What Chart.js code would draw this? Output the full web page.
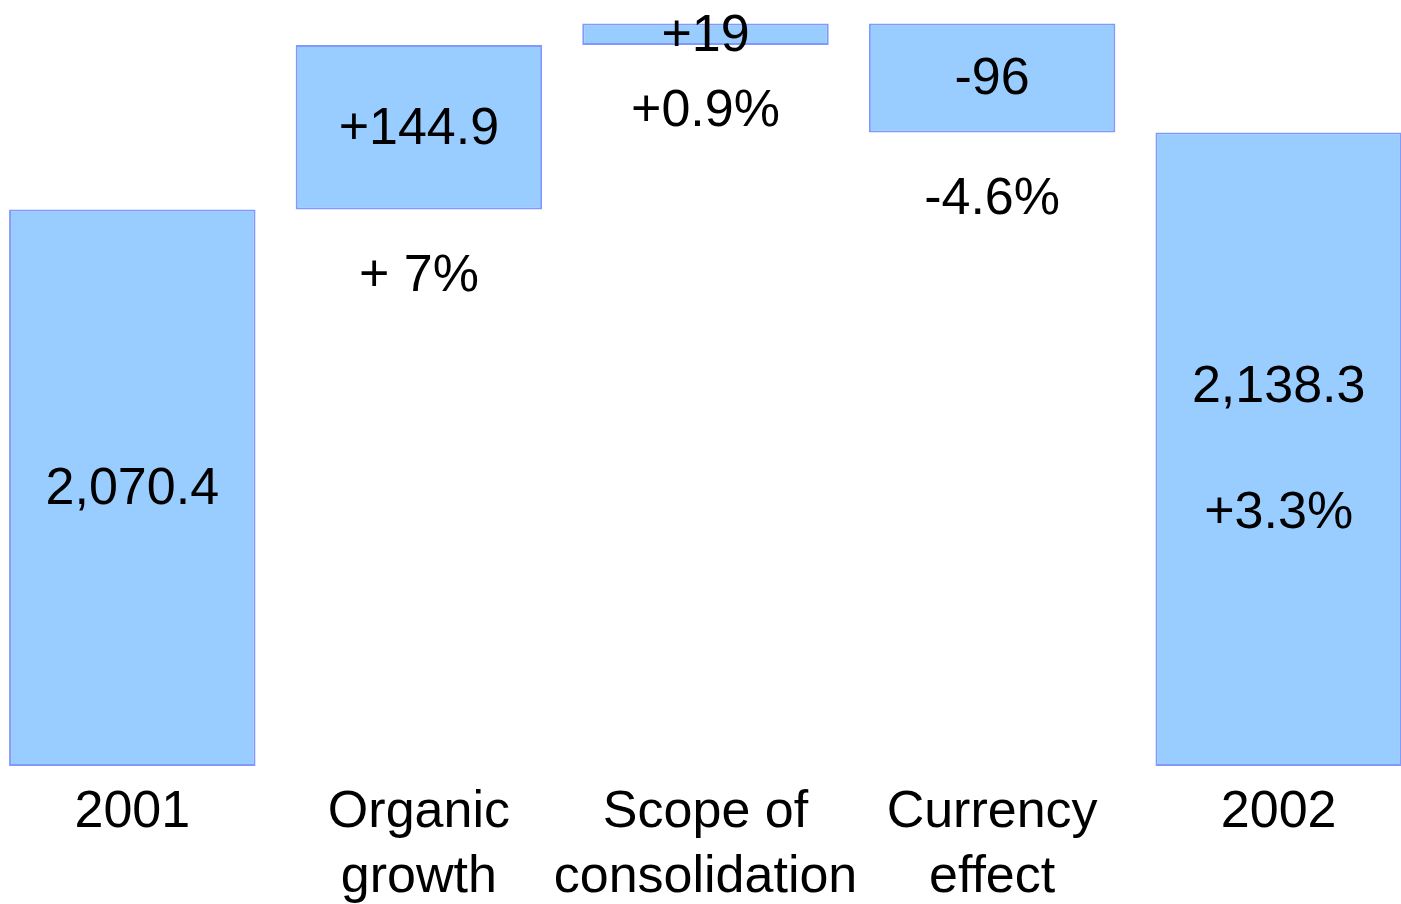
<!DOCTYPE html>
<html>
<head>
<meta charset="utf-8">
<title>Sales 2001 - 2002</title>
<script src="https://cdn.jsdelivr.net/npm/chart.js@4/dist/chart.umd.min.js"></script>
<style>
  html, body { margin: 0; padding: 0; background: #ffffff; overflow: hidden; }
  /* the outer bars run slightly past the page edges */
  #wrap { position: absolute; left: -11px; top: 0; width: 1433px; height: 924px; }
</style>
</head>
<body>
<div id="wrap"><canvas id="bridge"></canvas></div>
<script>
// categories of the bridge, multi-line where the label wraps
var categories = [["2001"], ["Organic", "growth"], ["Scope of", "consolidation"], ["Currency", "effect"], ["2002"]];
// start total, the three movements, end total
var steps = [2070.4, 144.9, 19, -96, 2138.3];
var isTotal = [true, false, false, false, true];
var valueLabels = ["2,070.4", "+144.9", "+19", "-96", "2,138.3"];
var percentLabels = ["", "+ 7%", "+0.9%", "-4.6%", "+3.3%"];

// value axis is cut, totals rise from this floor
var axisFloor = 1580;
var axisTop = 2255;

// floating [low, high] pairs for the waterfall
var ranges = [];
var running = 0;
for (var i = 0; i < steps.length; i++) {
    if (isTotal[i]) {
        ranges.push([axisFloor, steps[i]]);
        running = steps[i];
    } else {
        ranges.push([running, running + steps[i]]);
        running = running + steps[i];
    }
}

var fontFamily = "'Liberation Sans', Arial, Helvetica, sans-serif";

// writes the values inside the bars and the percentages under the movements
var barText = {
    id: "barText",
    afterDatasetsDraw: function(chart) {
        var ctx = chart.ctx;
        var bars = chart.getDatasetMeta(0).data;
        ctx.save();
        ctx.fillStyle = "#000000";
        ctx.font = "52px " + fontFamily;
        ctx.textAlign = "center";
        ctx.textBaseline = "middle";
        for (var i = 0; i < bars.length; i++) {
            var bar = bars[i];
            var top = Math.min(bar.y, bar.base);
            var bottom = Math.max(bar.y, bar.base);
            var mid = (top + bottom) / 2;
            if (isTotal[i]) {
                if (percentLabels[i]) {
                    ctx.fillText(valueLabels[i], bar.x, mid - 62);
                    ctx.fillText(percentLabels[i], bar.x, mid + 64);
                } else {
                    ctx.fillText(valueLabels[i], bar.x, mid + 2);
                }
            } else {
                ctx.fillText(valueLabels[i], bar.x, mid + 2);
                ctx.fillText(percentLabels[i], bar.x, bottom + 67);
            }
        }
        ctx.restore();
    }
};

var chartBridge = new Chart(document.getElementById("bridge"), {
    type: "bar",
    data: {
        labels: categories,
        datasets: [{
            data: ranges,
            backgroundColor: "rgb(153,204,255)",
            borderColor: "rgb(128,153,255)",
            borderWidth: 2,
            borderSkipped: false,
            categoryPercentage: 1,
            barPercentage: 0.86
        }]
    },
    options: {
        responsive: true,
        maintainAspectRatio: false,
        animation: false,
        layout: {
            padding: 0
        },
        plugins: {
            legend: { display: false },
            tooltip: { enabled: false },
            title: { display: false }
        },
        scales: {
            x: {
                grid: { display: false, drawTicks: false },
                border: { display: false },
                ticks: {
                    color: "#000000",
                    font: { family: fontFamily, size: 52, lineHeight: 1.25 },
                    padding: 14,
                    maxRotation: 0,
                    minRotation: 0,
                    autoSkip: false
                }
            },
            y: {
                display: false,
                min: axisFloor,
                max: axisTop
            }
        }
    },
    plugins: [barText]
});
</script>
</body>
</html>
